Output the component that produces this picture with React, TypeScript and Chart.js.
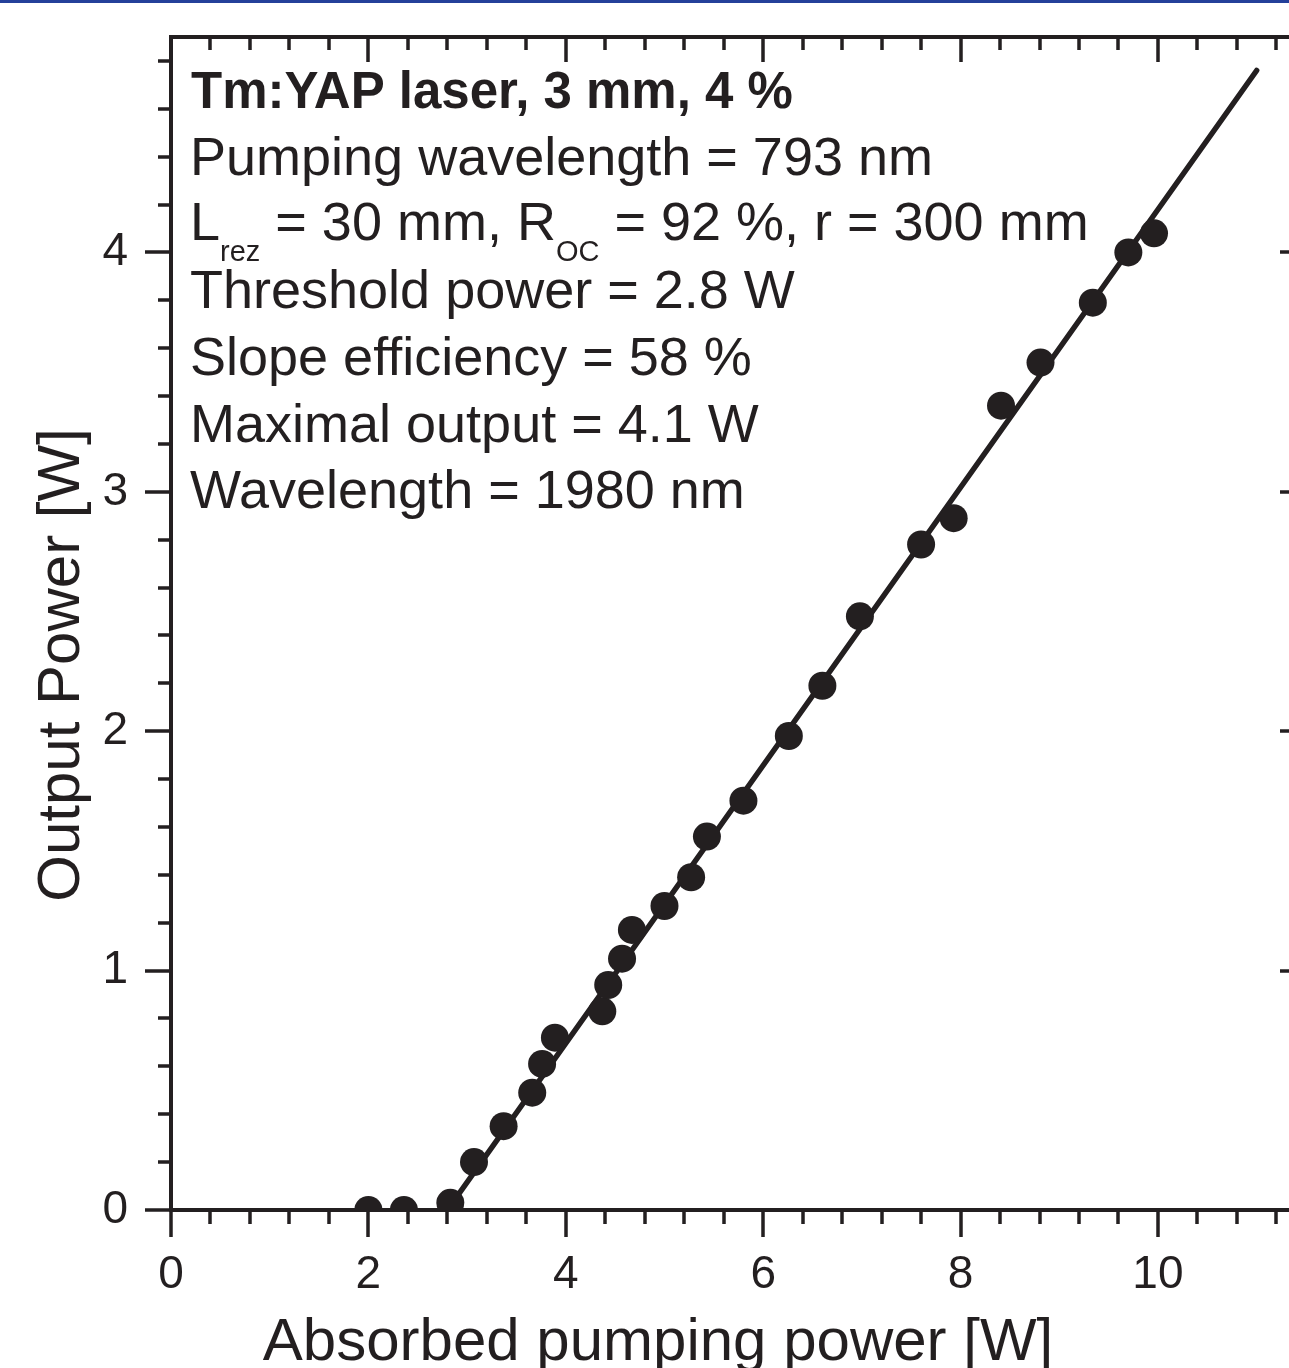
import React, { useEffect, useRef } from "react";
import { Chart, registerables } from "chart.js";

Chart.register(...registerables);

// ---- data ----
const absorbedPower = [
  2.0, 2.36, 2.83, 3.07, 3.37, 3.66, 3.76, 3.89, 4.37, 4.43, 4.57, 4.67, 5.0,
  5.27, 5.43, 5.8, 6.26, 6.6, 6.98, 7.6, 7.93, 8.41, 8.81, 9.34, 9.7, 9.96,
];
const outputPower = [
  0, 0, 0.03, 0.2, 0.35, 0.49, 0.61, 0.72, 0.83, 0.94, 1.05, 1.17, 1.27,
  1.39, 1.56, 1.71, 1.98, 2.19, 2.48, 2.78, 2.89, 3.36, 3.54, 3.79, 4.0, 4.08,
];
const fitX = [2.8, 11.0];
const fitY = [0, 4.76];

const xMajorTicks = [0, 2, 4, 6, 8, 10];
const yMajorTicks = [0, 1, 2, 3, 4];
const xMinorStep = 0.4;
const yMinorStep = 0.2;

const xTitle = "Absorbed pumping power [W]";
const yTitle = "Output Power [W]";

const titleLine = "Tm:YAP laser, 3 mm, 4 %";
const infoLines = [
  "Pumping wavelength = 793 nm",
  "",
  "Threshold power = 2.8 W",
  "Slope efficiency = 58 %",
  "Maximal output = 4.1 W",
  "Wavelength = 1980 nm",
];
const resonatorSegments = [
  { text: "L", sub: false },
  { text: "rez", sub: true },
  { text: " = 30 mm, R", sub: false },
  { text: "OC", sub: true },
  { text: " = 92 %, r = 300 mm", sub: false },
];

const INK = "#231f20";
const FONT = '"Liberation Sans", Arial, Helvetica, sans-serif';
const CANVAS_W = 1320;
const CANVAS_H = 1368;

const framePlugin = {
  id: "frame",
  afterDatasetsDraw(chart: any) {
    const { ctx, chartArea: a, scales } = chart;
    const xs = scales.x;
    const ys = scales.y;
    ctx.save();
    ctx.strokeStyle = INK;
    ctx.lineCap = "butt";
    // frame
    ctx.lineWidth = 4;
    ctx.beginPath();
    ctx.moveTo(a.left, a.top - 2);
    ctx.lineTo(a.left, a.bottom + 2);
    ctx.moveTo(a.left - 2, a.bottom);
    ctx.lineTo(a.right + 2, a.bottom);
    ctx.moveTo(a.left - 2, a.top);
    ctx.lineTo(a.right + 2, a.top);
    ctx.moveTo(a.right, a.top - 2);
    ctx.lineTo(a.right, a.bottom + 2);
    ctx.stroke();
    // ticks
    ctx.lineWidth = 3.5;
    ctx.beginPath();
    for (let i = 0; ; i++) {
      const v = i * xMinorStep;
      if (v > xs.max + 1e-9) break;
      const major = i % 5 === 0;
      const px = Math.round(xs.getPixelForValue(v));
      const out = major ? 27 : 14;
      const inn = major ? 25 : 13;
      ctx.moveTo(px, a.bottom);
      ctx.lineTo(px, a.bottom + out);
      ctx.moveTo(px, a.top);
      ctx.lineTo(px, a.top + inn);
    }
    for (let i = 0; ; i++) {
      const v = i * yMinorStep;
      if (v > ys.max + 1e-9) break;
      const major = i % 5 === 0;
      const py = Math.round(ys.getPixelForValue(v));
      const out = major ? 26 : 13;
      ctx.moveTo(a.left - out, py);
      ctx.lineTo(a.left, py);
      ctx.moveTo(a.right - out, py);
      ctx.lineTo(a.right, py);
    }
    ctx.stroke();
    ctx.restore();
  },
};

const textPlugin = {
  id: "texts",
  afterDraw(chart: any) {
    const { ctx } = chart;
    ctx.save();
    // blue rule at top of page
    ctx.fillStyle = "#24409a";
    ctx.fillRect(0, 0, chart.width, 3);

    ctx.fillStyle = INK;
    ctx.textAlign = "left";
    ctx.textBaseline = "alphabetic";
    const x0 = 190;
    const baselines = [108, 175, 240, 308, 375, 442, 508];

    ctx.font = `bold 51px ${FONT}`;
    ctx.fillText(titleLine, x0 + 1, baselines[0]);

    ctx.font = `54px ${FONT}`;
    infoLines.forEach((t, i) => {
      if (t) ctx.fillText(t, x0, baselines[i + 1]);
    });

    // resonator line with subscripts
    let x = x0;
    const yb = baselines[2];
    resonatorSegments.forEach((s) => {
      ctx.font = s.sub ? `29px ${FONT}` : `54px ${FONT}`;
      ctx.fillText(s.text, x, s.sub ? yb + 21 : yb);
      x += ctx.measureText(s.text).width;
    });

    // axis titles
    ctx.font = `60px ${FONT}`;
    ctx.textAlign = "center";
    ctx.fillText(xTitle, 658, 1360);
    ctx.save();
    ctx.translate(79, 665);
    ctx.rotate(-Math.PI / 2);
    ctx.fillText(yTitle, 0, 0);
    ctx.restore();

    ctx.restore();
  },
};

export default function App() {
  const ref = useRef<HTMLCanvasElement | null>(null);

  useEffect(() => {
    document.body.style.margin = "0";
    document.body.style.overflow = "hidden";
    const canvas = ref.current;
    if (!canvas) return;
    const chart = new Chart(canvas, {
      type: "scatter",
      data: {
        datasets: [
          {
            data: absorbedPower.map((x, i) => ({ x, y: outputPower[i] })),
            pointRadius: 14,
            pointStyle: "circle",
            backgroundColor: INK,
            borderWidth: 0,
            clip: { left: false, top: false, right: false, bottom: 0 } as any,
            order: 1,
          },
          {
            data: fitX.map((x, i) => ({ x, y: fitY[i] })),
            showLine: true,
            borderColor: INK,
            borderWidth: 5.5,
            pointRadius: 0,
            borderCapStyle: "round",
            order: 2,
          } as any,
        ],
      },
      options: {
        responsive: false,
        maintainAspectRatio: false,
        animation: false,
        devicePixelRatio: 1,
        events: [],
        layout: { padding: { top: 37, right: 3, left: 0, bottom: 0 } },
        plugins: { legend: { display: false }, tooltip: { enabled: false } },
        scales: {
          x: {
            type: "linear",
            min: 0,
            max: 11.5,
            afterFit: (s: any) => {
              s.height = 158;
              s.paddingLeft = 0;
              s.paddingRight = 0;
              s.paddingTop = 0;
              s.paddingBottom = 0;
            },
            afterBuildTicks: (s: any) => {
              s.ticks = xMajorTicks.map((v) => ({ value: v }));
            },
            grid: { display: false, drawTicks: false },
            border: { display: false },
            ticks: {
              font: { family: FONT, size: 46 },
              color: INK,
              padding: 38,
              maxRotation: 0,
              autoSkip: false,
              callback: (v: any) => String(v),
            },
          },
          y: {
            type: "linear",
            min: 0,
            max: 4.9,
            afterFit: (s: any) => {
              s.width = 171;
              s.paddingLeft = 0;
              s.paddingRight = 0;
              s.paddingTop = 0;
              s.paddingBottom = 0;
            },
            afterBuildTicks: (s: any) => {
              s.ticks = yMajorTicks.map((v) => ({ value: v }));
            },
            grid: { display: false, drawTicks: false },
            border: { display: false },
            ticks: {
              font: { family: FONT, size: 46 },
              color: INK,
              padding: 43,
              autoSkip: false,
              callback: (v: any) => String(v),
            },
          },
        },
      },
      plugins: [framePlugin, textPlugin],
    });
    return () => chart.destroy();
  }, []);

  return (
    <div style={{ width: 1289, height: CANVAS_H, overflow: "hidden", background: "#fff" }}>
      <div style={{ width: CANVAS_W, height: CANVAS_H }}>
        <canvas
          ref={ref}
          width={CANVAS_W}
          height={CANVAS_H}
          style={{ display: "block", width: CANVAS_W, height: CANVAS_H }}
        />
      </div>
    </div>
  );
}
